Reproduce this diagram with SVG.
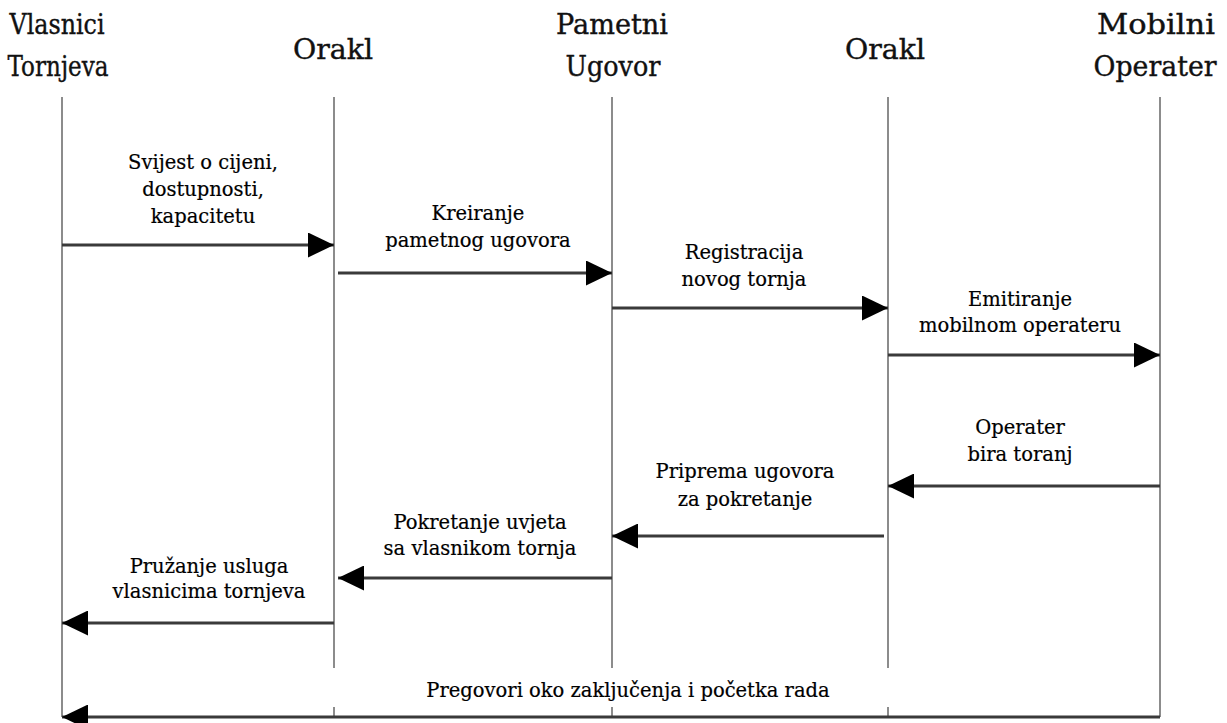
<svg xmlns="http://www.w3.org/2000/svg" width="1227" height="723" viewBox="0 0 1227 723">
<style>
.hdr{font-family:"DejaVu Serif","Liberation Serif",serif;font-size:28px;fill:#111;stroke:#111;stroke-width:0.4;text-anchor:middle}
.lbl{font-family:"DejaVu Serif","Liberation Serif",serif;font-size:19.5px;fill:#000;stroke:#000;stroke-width:0.2;text-anchor:middle}
.life{stroke:#8c8c8c;stroke-width:2;fill:none}
.msg{stroke:#3a3a3a;stroke-width:3;fill:none;marker-end:url(#ah)}
</style>
<defs>
<marker id="ah" markerUnits="userSpaceOnUse" markerWidth="27" markerHeight="25" refX="26" refY="12.5" orient="auto">
<path d="M0,0 L26,12.5 L0,25 Z" fill="#000"/>
</marker>
</defs>
<rect width="1227" height="723" fill="#fff"/>
<g id="vlasnici">
<text class="hdr" x="57" y="34" textLength="95" lengthAdjust="spacingAndGlyphs">Vlasnici</text>
<text class="hdr" x="58" y="76" textLength="101" lengthAdjust="spacingAndGlyphs">Tornjeva</text>
<line class="life" x1="62" y1="97" x2="62" y2="717"/>
</g>
<g id="orakl1">
<text class="hdr" x="333" y="59" textLength="80" lengthAdjust="spacingAndGlyphs">Orakl</text>
<line class="life" x1="334" y1="97" x2="334" y2="668"/>
<line class="life" x1="334" y1="707" x2="334" y2="717"/>
</g>
<g id="ugovor">
<text class="hdr" x="612" y="34" textLength="112" lengthAdjust="spacingAndGlyphs">Pametni</text>
<text class="hdr" x="613" y="76" textLength="95" lengthAdjust="spacingAndGlyphs">Ugovor</text>
<line class="life" x1="612" y1="97" x2="612" y2="668"/>
<line class="life" x1="612" y1="707" x2="612" y2="717"/>
</g>
<g id="orakl2">
<text class="hdr" x="885" y="59" textLength="80" lengthAdjust="spacingAndGlyphs">Orakl</text>
<line class="life" x1="888" y1="97" x2="888" y2="668"/>
<line class="life" x1="888" y1="707" x2="888" y2="717"/>
</g>
<g id="operater">
<text class="hdr" x="1156" y="34" textLength="118" lengthAdjust="spacingAndGlyphs">Mobilni</text>
<text class="hdr" x="1155" y="76" textLength="123" lengthAdjust="spacingAndGlyphs">Operater</text>
<line class="life" x1="1160" y1="97" x2="1160" y2="717"/>
</g>
<g id="connectors">
<line class="msg" x1="62" y1="245" x2="334" y2="245"/>
<text class="lbl" x="203" y="169">Svijest o cijeni,</text>
<text class="lbl" x="203" y="196">dostupnosti,</text>
<text class="lbl" x="203" y="223">kapacitetu</text>
<line class="msg" x1="338" y1="273" x2="612" y2="273"/>
<text class="lbl" x="478" y="220">Kreiranje</text>
<text class="lbl" x="478" y="247">pametnog ugovora</text>
<line class="msg" x1="612" y1="308" x2="888" y2="308"/>
<text class="lbl" x="744" y="259">Registracija</text>
<text class="lbl" x="744" y="286">novog tornja</text>
<line class="msg" x1="888" y1="355" x2="1160" y2="355"/>
<text class="lbl" x="1020" y="306">Emitiranje</text>
<text class="lbl" x="1020" y="332">mobilnom operateru</text>
<line class="msg" x1="1160" y1="486" x2="888" y2="486"/>
<text class="lbl" x="1020" y="434">Operater</text>
<text class="lbl" x="1020" y="461">bira toranj</text>
<line class="msg" x1="884" y1="536" x2="612" y2="536"/>
<text class="lbl" x="745" y="478">Priprema ugovora</text>
<text class="lbl" x="745" y="506">za pokretanje</text>
<line class="msg" x1="612" y1="578" x2="338" y2="578"/>
<text class="lbl" x="480" y="529">Pokretanje uvjeta</text>
<text class="lbl" x="480" y="555">sa vlasnikom tornja</text>
<line class="msg" x1="334" y1="623" x2="62" y2="623"/>
<text class="lbl" x="209" y="573">Pružanje usluga</text>
<text class="lbl" x="209" y="598">vlasnicima tornjeva</text>
<line class="msg" x1="1160" y1="717" x2="62" y2="717"/>
<text class="lbl" x="628" y="697">Pregovori oko zaključenja i početka rada</text>
</g>
</svg>
